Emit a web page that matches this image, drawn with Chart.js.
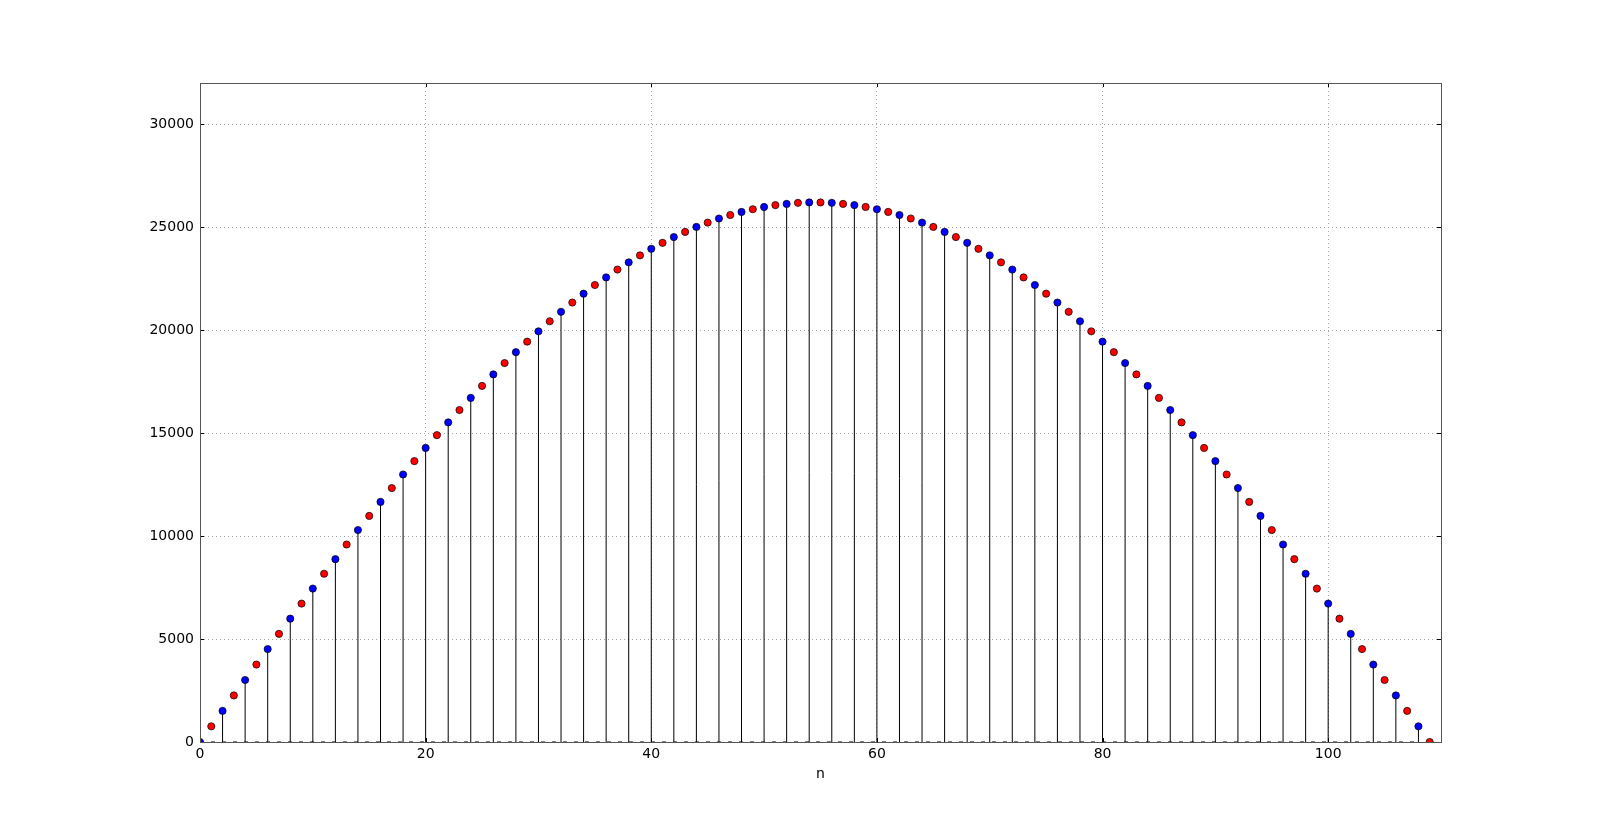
<!DOCTYPE html>
<html>
<head>
<meta charset="utf-8">
<script src="https://cdn.jsdelivr.net/npm/chart.js@4/dist/chart.umd.min.js"></script>
<style>
  body { margin: 0; background: #fff; }
  #wrap { width: 1600px; height: 825px; }
</style>
</head>
<body>
<div id="wrap"><canvas id="stem_chart" width="1600" height="825"></canvas></div>
<script>
// n positions of the stem (blue) points and the in-between (red) points
var evenN = [0, 2, 4, 6, 8, 10, 12, 14, 16, 18, 20, 22, 24, 26, 28, 30, 32, 34, 36, 38, 40,
    42, 44, 46, 48, 50, 52, 54, 56, 58, 60, 62, 64, 66, 68, 70, 72, 74, 76, 78, 80,
    82, 84, 86, 88, 90, 92, 94, 96, 98, 100, 102, 104, 106, 108];
var oddN = [1, 3, 5, 7, 9, 11, 13, 15, 17, 19, 21, 23, 25, 27, 29, 31, 33, 35, 37, 39, 41,
    43, 45, 47, 49, 51, 53, 55, 57, 59, 61, 63, 65, 67, 69, 71, 73, 75, 77, 79, 81,
    83, 85, 87, 89, 91, 93, 95, 97, 99, 101, 103, 105, 107, 109];

// values
var blueValues = [0, 1510, 3010, 4510, 5990, 7450, 8880, 10290, 11660, 12990, 14280, 15520,
    16710, 17850, 18930, 19940, 20890, 21770, 22560, 23290, 23950, 24520, 25010, 25420,
    25740, 25980, 26130, 26200, 26180, 26070, 25870, 25590, 25220, 24770, 24240, 23630,
    22940, 22190, 21340, 20430, 19440, 18400, 17290, 16120, 14900, 13640, 12330, 10980,
    9590, 8170, 6720, 5250, 3760, 2260, 760];
var redValues = [760, 2260, 3760, 5250, 6720, 8170, 9590, 10980, 12330, 13640, 14900, 16120,
    17290, 18400, 19440, 20430, 21340, 22190, 22940, 23630, 24240, 24770, 25220, 25590,
    25870, 26070, 26180, 26200, 26130, 25980, 25740, 25420, 25010, 24520, 23950, 23290,
    22560, 21770, 20890, 19940, 18930, 17850, 16710, 15520, 14280, 12990, 11660, 10290,
    8880, 7450, 5990, 4510, 3010, 1510, 0];

var xTicks = [0, 20, 40, 60, 80, 100];
var yTicks = [0, 5000, 10000, 15000, 20000, 25000, 30000];

function toPoints(xs, ys) {
    return xs.map(function (x, i) { return { x: x, y: ys[i] }; });
}

var bluePts = toPoints(evenN, blueValues);
var redPts = toPoints(oddN, redValues);

// each stem goes from 0 up to its point, a null breaks the line before the next one
var stemPts = [];
evenN.forEach(function (x, i) {
    stemPts.push({ x: x, y: 0 }, { x: x, y: blueValues[i] }, { x: x, y: null });
});

// frame around the axes plus short inward tick marks, like matplotlib
var framePlugin = {
    id: 'frame',
    afterDraw: function (chart) {
        var c = chart.ctx, a = chart.chartArea;
        var xs = chart.scales.x, ys = chart.scales.y;
        c.save();
        c.strokeStyle = '#000';
        c.lineWidth = 1;
        c.beginPath();
        xTicks.forEach(function (v) {
            var px = Math.round(xs.getPixelForValue(v)) + 0.5;
            c.moveTo(px, a.bottom); c.lineTo(px, a.bottom - 4);
            c.moveTo(px, a.top); c.lineTo(px, a.top + 4);
        });
        yTicks.forEach(function (v) {
            var py = Math.round(ys.getPixelForValue(v)) + 0.5;
            c.moveTo(a.left, py); c.lineTo(a.left + 4, py);
            c.moveTo(a.right, py); c.lineTo(a.right - 4, py);
        });
        c.stroke();
        c.strokeStyle = '#555';
        c.strokeRect(Math.round(a.left) + 0.5, Math.round(a.top) + 0.5,
            Math.round(a.right - a.left), Math.round(a.bottom - a.top));
        c.restore();
    }
};

function fixedTicks(list) {
    return function (scale) {
        scale.ticks = list.map(function (v) { return { value: v }; });
    };
}

var ctx = document.getElementById('stem_chart').getContext('2d');

var stemChart = new Chart(ctx, {
    type: 'scatter',
    data: {
        datasets: [
            {
                data: redPts,
                backgroundColor: '#ff0000',
                borderColor: '#000',
                borderWidth: 0.7,
                pointRadius: 3.6,
                order: 1,
                clip: 0
            },
            {
                data: bluePts,
                backgroundColor: '#0000ff',
                borderColor: '#000',
                borderWidth: 0.7,
                pointRadius: 3.6,
                order: 0,
                clip: 0
            },
            {
                // stem baseline
                data: [{ x: 0, y: 0 }, { x: 108, y: 0 }],
                showLine: true,
                borderColor: '#000',
                borderWidth: 1,
                borderDash: [4, 7],
                pointRadius: 0,
                order: 2
            },
            {
                // stems
                data: stemPts,
                showLine: true,
                spanGaps: false,
                borderColor: '#000',
                borderWidth: 1,
                pointRadius: 0,
                order: 3
            }
        ]
    },
    options: {
        responsive: false,
        animation: false,
        layout: { padding: { left: 0, right: 159, top: 83, bottom: 0 } },
        plugins: {
            legend: { display: false },
            tooltip: { enabled: false }
        },
        scales: {
            x: {
                type: 'linear',
                min: 0,
                max: 110,
                afterBuildTicks: fixedTicks(xTicks),
                afterFit: function (scale) { scale.height = 83; },
                ticks: {
                    padding: 4,
                    color: '#000',
                    font: { family: 'DejaVu Sans', size: 14 },
                    callback: function (v) { return String(v); }
                },
                grid: { color: '#a8a8a8', lineWidth: 1, drawTicks: false },
                border: { display: false, dash: [1, 3] },
                title: {
                    display: true,
                    text: 'n',
                    color: '#000',
                    font: { family: 'DejaVu Sans', size: 14 },
                    padding: { top: 0, bottom: 42 }
                }
            },
            y: {
                type: 'linear',
                min: 0,
                max: 32000,
                afterBuildTicks: fixedTicks(yTicks),
                afterFit: function (scale) { scale.width = 200; },
                ticks: {
                    padding: 6,
                    color: '#000',
                    font: { family: 'DejaVu Sans', size: 14 },
                    callback: function (v) { return String(v); }
                },
                grid: { color: '#a8a8a8', lineWidth: 1, drawTicks: false },
                border: { display: false, dash: [1, 3] }
            }
        }
    },
    plugins: [framePlugin]
});
</script>
</body>
</html>
